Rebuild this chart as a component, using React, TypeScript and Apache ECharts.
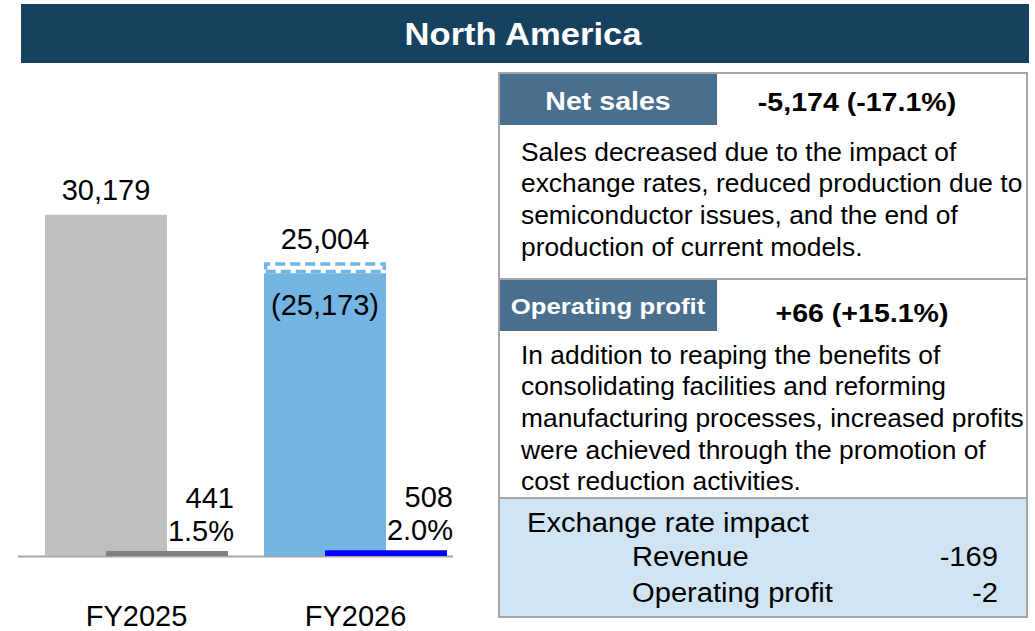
import React, { useEffect, useRef } from "react";
import * as echarts from "echarts";

const categories = ["FY2025", "FY2026"];
const netSales = [30179, 25004];
const netSalesExFx = [null, 25173];
const opProfit = [441, 508];
const opMargin = [1.5, 2.0];
const netSalesColors = ["#bfbfbf", "#74b4e2"];
const opColors = ["#808080", "#0000ff"];

const salesDelta = -5174;
const salesDeltaPct = -17.1;
const opDelta = 66;
const opDeltaPct = 15.1;
const fxRevenue = -169;
const fxOp = -2;

const salesText = [
  "Sales decreased due to the impact of",
  "exchange rates, reduced production due to",
  "semiconductor issues, and the end of",
  "production of current models.",
];
const opText = [
  "In addition to reaping the benefits of",
  "consolidating facilities and reforming",
  "manufacturing processes, increased profits",
  "were achieved through the promotion of",
  "cost reduction activities.",
];

const FONT = '"Liberation Sans", Arial, Helvetica, sans-serif';
const fmt = (v: number) => v.toLocaleString("en-US");
const signed = (v: number) => (v > 0 ? "+" : "") + fmt(v);
const signedPct = (v: number) => (v > 0 ? "+" : "") + v.toFixed(1) + "%";

function txt(
  text: string,
  x: number,
  y: number,
  size: number,
  opts: { bold?: boolean; align?: string; vAlign?: string; fill?: string; sx?: number; lh?: number } = {}
) {
  const align = opts.align || "left";
  const vAlign = opts.vAlign || "middle";
  return {
    type: "text",
    x,
    y,
    scaleX: opts.sx || 1,
    z: 10,
    style: {
      text,
      fontSize: size,
      fontFamily: FONT,
      fontWeight: opts.bold ? "bold" : "normal",
      fill: opts.fill || "#000",
      align,
      verticalAlign: vAlign,
      textAlign: align,
      textVerticalAlign: vAlign,
      lineHeight: opts.lh,
    },
  };
}

export default function App() {
  const ref = useRef<HTMLDivElement>(null);
  useEffect(() => {
    document.body.style.margin = "0";
    const chart = echarts.init(ref.current!, null, { renderer: "svg" });
    const SX = 1.12;
    const option: any = {
      animation: false,
      backgroundColor: "#fff",
      textStyle: { fontFamily: FONT },
      grid: { left: 27, width: 438, top: 149, bottom: 75, containLabel: false },
      xAxis: {
        type: "category",
        data: categories,
        axisLine: { show: false },
        axisTick: { show: false },
        axisLabel: { fontSize: 29, color: "#000", fontFamily: FONT, margin: 45 },
      },
      yAxis: { type: "value", min: 0, max: 36000, show: false, splitLine: { show: false } },
      series: [
        {
          name: "Net sales",
          type: "bar",
          stack: "ns",
          barWidth: 122,
          barGap: "-50%",
          data: netSales.map((v, i) => ({
            value: v,
            itemStyle: { color: netSalesColors[i] },
            label:
              netSalesExFx[i] == null
                ? { show: true, position: "top", distance: 10, formatter: fmt(v) }
                : { show: true, position: "insideTop", distance: 17, formatter: "(" + fmt(netSalesExFx[i] as number) + ")" },
          })),
          label: { fontSize: 29, color: "#000", fontFamily: FONT },
        },
        {
          name: "Excluding FX",
          type: "bar",
          stack: "ns",
          barWidth: 122,
          barGap: "-50%",
          barMinHeight: 11,
          data: netSalesExFx.map((v, i) => (v == null ? "-" : v - netSales[i])),
          itemStyle: { color: "#ffffff", borderColor: "#74b4e2", borderWidth: 3.5, borderType: [10, 5] },
          label: {
            show: true,
            position: "top",
            distance: 9,
            fontSize: 29,
            color: "#000",
            fontFamily: FONT,
            formatter: (p: any) => fmt(netSales[p.dataIndex]),
          },
        },
        {
          name: "Operating profit",
          type: "bar",
          barWidth: 122,
          barGap: "-50%",
          data: opProfit.map((v, i) => ({ value: v, itemStyle: { color: opColors[i] } })),
          label: {
            show: true,
            position: ["100%", 0],
            align: "right",
            verticalAlign: "bottom",
            offset: [6, -4],
            fontSize: 29,
            lineHeight: 33,
            color: "#000",
            fontFamily: FONT,
            formatter: (p: any) => fmt(opProfit[p.dataIndex]) + "\n" + opMargin[p.dataIndex].toFixed(1) + "%",
          },
        },
      ],
      graphic: [
        // title bar
        { type: "rect", shape: { x: 21, y: 4, width: 1008, height: 59 }, style: { fill: "#17425f" }, z: 1 },
        txt("North America", 523, 34, 32, { bold: true, align: "center", fill: "#fff", sx: 1.08 }),
        // baseline
        { type: "line", shape: { x1: 18, y1: 556.5, x2: 453, y2: 556.5 }, style: { stroke: "#a6a6a6", lineWidth: 2 }, z: 0 },
        // panel
        { type: "rect", shape: { x: 499, y: 73, width: 528, height: 544 }, style: { fill: "#fff", stroke: "#a6a6a6", lineWidth: 2 }, z: 1 },
        { type: "rect", shape: { x: 500, y: 498, width: 526, height: 118 }, style: { fill: "#d0e4f3" }, z: 2 },
        { type: "line", shape: { x1: 499, y1: 279, x2: 1027, y2: 279 }, style: { stroke: "#a6a6a6", lineWidth: 2 }, z: 3 },
        { type: "line", shape: { x1: 499, y1: 498, x2: 1027, y2: 498 }, style: { stroke: "#a6a6a6", lineWidth: 2 }, z: 3 },
        { type: "rect", shape: { x: 500, y: 74, width: 217, height: 51 }, style: { fill: "#4a6f8e" }, z: 3 },
        { type: "rect", shape: { x: 500, y: 280, width: 217, height: 51 }, style: { fill: "#4a6f8e" }, z: 3 },
        txt("Net sales", 608, 101, 25.5, { bold: true, align: "center", fill: "#fff", sx: SX }),
        txt(signed(salesDelta) + " (" + signedPct(salesDeltaPct) + ")", 857, 102, 25.5, { bold: true, align: "center", sx: SX }),
        txt(salesText.join("\n"), 521, 136, 25, { vAlign: "top", sx: 1.055, lh: 31.7 }),
        txt("Operating profit", 608, 306, 23, { bold: true, align: "center", fill: "#fff", sx: SX }),
        txt(signed(opDelta) + " (" + signedPct(opDeltaPct) + ")", 862, 313, 25.5, { bold: true, align: "center", sx: SX }),
        txt(opText.join("\n"), 521, 339, 25, { vAlign: "top", sx: 1.055, lh: 31.7 }),
        txt("Exchange rate impact", 527, 523, 27, { sx: 1.08 }),
        txt("Revenue", 632, 557, 27, { sx: 1.08 }),
        txt(fmt(fxRevenue), 998, 557, 27, { align: "right", sx: 1.08 }),
        txt("Operating profit", 632, 593, 27, { sx: 1.08 }),
        txt(fmt(fxOp), 998, 593, 27, { align: "right", sx: 1.08 }),
      ],
    };
    chart.setOption(option);
    return () => chart.dispose();
  }, []);
  return <div ref={ref} style={{ width: 1035, height: 631 }} />;
}
